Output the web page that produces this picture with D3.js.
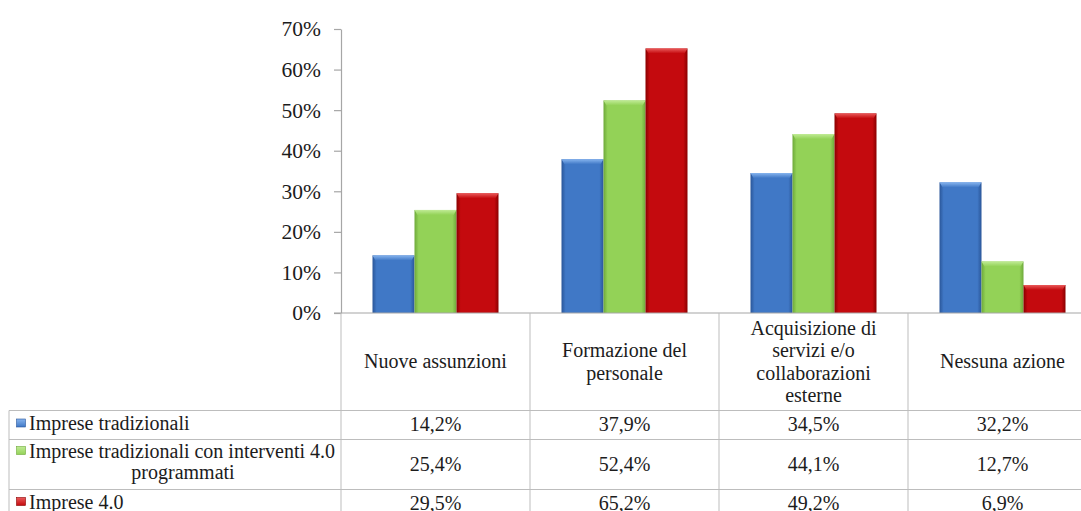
<!DOCTYPE html>
<html>
<head>
<meta charset="utf-8">
<script src="https://cdn.jsdelivr.net/npm/d3@7"></script>
<style>
  html, body { margin: 0; padding: 0; background: #fff; overflow: hidden; }
  svg text { font-family: "Liberation Serif", "DejaVu Serif", "Noto Serif", "Times New Roman", Times, serif; fill: #1c1c1c; }
</style>
</head>
<body>
<svg id="chart" width="1081" height="511"></svg>
<script>
// ---- data ----
const categories = ["Nuove assunzioni", "Formazione del personale", "Acquisizione di servizi e/o collaborazioni esterne", "Nessuna azione"];
const categoryLines = [["Nuove assunzioni"], ["Formazione del", "personale"], ["Acquisizione di", "servizi e/o", "collaborazioni", "esterne"], ["Nessuna azione"]];
const seriesNames = ["Imprese tradizionali", "Imprese tradizionali con interventi 4.0 programmati", "Imprese 4.0"];
const seriesLines = [["Imprese tradizionali"], ["Imprese tradizionali con interventi 4.0", "programmati"], ["Imprese 4.0"]];
const tradizionali = [14.2, 37.9, 34.5, 32.2];
const programmati = [25.4, 52.4, 44.1, 12.7];
const imprese40 = [29.5, 65.2, 49.2, 6.9];
const yTicks = [0, 10, 20, 30, 40, 50, 60, 70];

const seriesValues = [tradizionali, programmati, imprese40];

// ---- layout ----
const W = 1081, H = 511;
const plotLeft = 341, catStep = 189, plotTop = 29, plotBottom = 313;
const tableLeft = 9;
const rowLines = [410.5, 439.5, 489.5, 520];
const headerLineH = 22.5;
const serif = '"Liberation Serif", "DejaVu Serif", "Noto Serif", "Times New Roman", Times, serif';

const palette = [
  { mid: "#4078c6", edge: "#2a5699", top: "#86b4ee" },
  { mid: "#93d257", edge: "#6ea93a", top: "#c0eb95" },
  { mid: "#c40a0e", edge: "#8a0000", top: "#ea5a5a" }
];

const svg = d3.select("#chart");
const defs = svg.append("defs");

palette.forEach((c, i) => {
  const g = defs.append("linearGradient").attr("id", "side" + i)
    .attr("x1", 0).attr("x2", 1).attr("y1", 0).attr("y2", 0);
  g.append("stop").attr("offset", "0%").attr("stop-color", c.edge);
  g.append("stop").attr("offset", "10%").attr("stop-color", c.mid);
  g.append("stop").attr("offset", "90%").attr("stop-color", c.mid);
  g.append("stop").attr("offset", "100%").attr("stop-color", c.edge);
  const t = defs.append("linearGradient").attr("id", "top" + i)
    .attr("x1", 0).attr("x2", 0).attr("y1", 0).attr("y2", 1);
  t.append("stop").attr("offset", "0%").attr("stop-color", c.top);
  t.append("stop").attr("offset", "100%").attr("stop-color", c.mid);
});

// ---- scales ----
const x0 = d3.scaleBand()
  .domain(categories)
  .range([plotLeft, plotLeft + catStep * categories.length])
  .paddingInner(0).paddingOuter(0);

const x1 = d3.scaleBand()
  .domain(seriesNames)
  .range([0, x0.bandwidth()])
  .paddingInner(0).paddingOuter(0.75);

const y = d3.scaleLinear().domain([0, 0.7]).range([plotBottom, plotTop]);

const it = d3.formatLocale({ decimal: ",", thousands: ".", grouping: [3], currency: ["€", ""] });
const pct1 = it.format(".1%");
const pct0 = it.format(".0%");

// ---- y axis ----
const yAxis = d3.axisLeft(y)
  .tickValues(yTicks.map(v => v / 100))
  .tickFormat(pct0)
  .tickSize(7)
  .tickSizeOuter(0)
  .tickPadding(13);

const gy = svg.append("g").attr("transform", `translate(${plotLeft},0)`).call(yAxis)
  .attr("font-family", serif).attr("font-size", 21.5);
gy.select(".domain").attr("stroke", "#a6a6a6").attr("stroke-width", 1.2);
gy.selectAll(".tick line").attr("stroke", "#a6a6a6").attr("stroke-width", 1.2);
gy.selectAll(".tick text")
  .style("font-family", serif)
  .style("font-size", "21.5px")
  .attr("fill", "#1c1c1c");

// ---- bars ----
const groups = svg.append("g").selectAll("g")
  .data(categories)
  .join("g")
  .attr("transform", d => `translate(${x0(d)},0)`);

groups.each(function (cat, ci) {
  const g = d3.select(this);
  seriesNames.forEach((s, si) => {
    const v = seriesValues[si][ci] / 100;
    const bx = x1(s), bw = x1.bandwidth();
    const top = y(v), h = plotBottom - top;
    g.append("rect")
      .attr("x", bx).attr("y", top)
      .attr("width", bw).attr("height", h)
      .attr("fill", `url(#side${si})`);
    const bevel = Math.min(5, h);
    g.append("path")
      .attr("d", `M${bx},${top} L${bx + bw},${top} L${bx + bw - 3},${top + bevel} L${bx + 3},${top + bevel} Z`)
      .attr("fill", `url(#top${si})`);
  });
});

// ---- data table ----
const gridColor = "#bdbdbd";
const table = svg.append("g").attr("font-family", serif).attr("font-size", 20);
const right = x0.range()[1];

// horizontal axis line / header top
table.append("line")
  .attr("x1", plotLeft - 7).attr("x2", right)
  .attr("y1", plotBottom).attr("y2", plotBottom)
  .attr("stroke", "#a6a6a6").attr("stroke-width", 1.2);

// row separators
rowLines.forEach(yy => {
  table.append("line")
    .attr("x1", tableLeft).attr("x2", right)
    .attr("y1", yy).attr("y2", yy)
    .attr("stroke", gridColor).attr("stroke-width", 1);
});

// left border of the legend column
table.append("line")
  .attr("x1", tableLeft).attr("x2", tableLeft)
  .attr("y1", rowLines[0]).attr("y2", H + 10)
  .attr("stroke", gridColor).attr("stroke-width", 1);

// category column separators
categories.concat([null]).forEach(c => {
  const xx = c ? x0(c) : right;
  table.append("line")
    .attr("x1", xx).attr("x2", xx)
    .attr("y1", plotBottom).attr("y2", H + 10)
    .attr("stroke", gridColor).attr("stroke-width", 1);
});

// header labels
const headerCenter = (plotBottom + rowLines[0]) / 2;
categories.forEach((c, i) => {
  const lines = categoryLines[i];
  const first = headerCenter - (lines.length - 1) * headerLineH / 2 + 6.5;
  const t = table.append("text")
    .attr("text-anchor", "middle")
    .style("font-family", serif)
    .style("font-size", "20px");
  lines.forEach((ln, li) => {
    t.append("tspan")
      .attr("x", x0(c) + x0.bandwidth() / 2)
      .attr("y", first + li * headerLineH)
      .text(ln);
  });
});

// value rows
const rowBaselines = [430.5, 471, 509.5];
seriesNames.forEach((s, si) => {
  categories.forEach((c, ci) => {
    table.append("text")
      .attr("x", x0(c) + x0.bandwidth() / 2)
      .attr("y", rowBaselines[si])
      .attr("text-anchor", "middle")
      .style("font-family", serif)
      .style("font-size", "20px")
      .text(pct1(seriesValues[si][ci] / 100));
  });
});

// legend keys and series names
const legendBaselines = [[430], [457.5, 478.5], [508.5]];
const keyX = 16.5, textX = 29;
seriesNames.forEach((s, si) => {
  const lines = seriesLines[si];
  const b0 = legendBaselines[si][0];
  table.append("rect")
    .attr("x", keyX).attr("y", b0 - 11)
    .attr("width", 9).attr("height", 8)
    .attr("fill", `url(#top${si})`)
    .attr("stroke", palette[si].edge).attr("stroke-width", 0.6);
  lines.forEach((ln, li) => {
    const t = table.append("text")
      .attr("y", legendBaselines[si][li])
      .style("font-family", serif)
      .style("font-size", "20px")
      .text(ln);
    if (li === 0) {
      t.attr("x", textX).attr("text-anchor", "start");
    } else {
      t.attr("x", (textX + plotLeft - 4) / 2).attr("text-anchor", "middle");
    }
  });
});
</script>
</body>
</html>
